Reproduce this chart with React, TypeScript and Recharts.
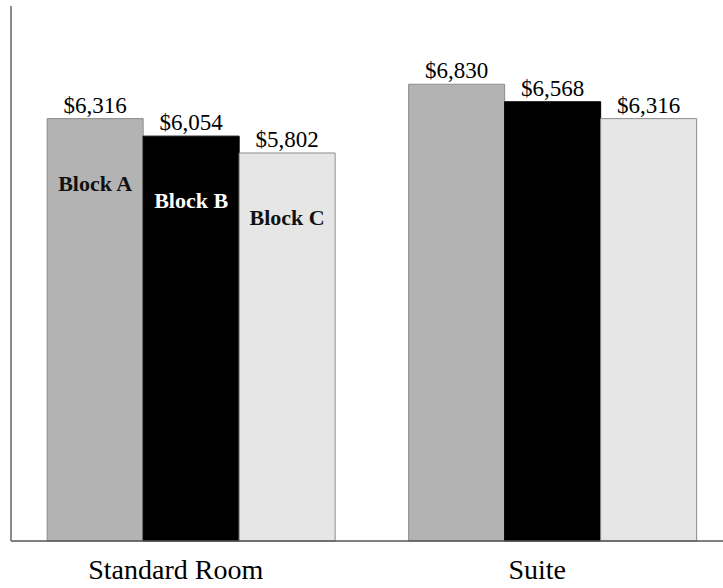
import { BarChart, Bar, XAxis, YAxis, LabelList } from 'recharts';

const categories = ['Standard Room', 'Suite'];
const blockA = [6316, 6830];
const blockB = [6054, 6568];
const blockC = [5802, 6316];
const seriesNames = ['Block A', 'Block B', 'Block C'];

const FONT = '"Liberation Serif", "Times New Roman", serif';

const data = categories.map((name, i) => ({
  name,
  blockA: blockA[i],
  blockB: blockB[i],
  blockC: blockC[i],
}));

const money = (v: any) => `$${Number(v).toLocaleString('en-US')}`;

// series name drawn inside the first group only
const nameLabel = (label: string, color: string) => (props: any) => {
  const { x, y, width, index } = props;
  if (index !== 0) return null;
  return (
    <text
      x={x + width / 2}
      y={y + 72}
      textAnchor="middle"
      fontFamily={FONT}
      fontWeight="bold"
      fontSize={22}
      fill={color}
    >
      {label}
    </text>
  );
};

const CategoryTick = (props: any) => {
  const { x, y, payload } = props;
  return (
    <text x={x - 16} y={y + 30} textAnchor="middle" fontFamily={FONT} fontSize={28} fill="#000">
      {payload.value}
    </text>
  );
};

const bars = [
  { key: 'blockA', fill: '#b3b3b3', stroke: '#8c8c8c', text: '#111' },
  { key: 'blockB', fill: '#000000', stroke: '#000000', text: '#fff' },
  { key: 'blockC', fill: '#e6e6e6', stroke: '#8c8c8c', text: '#111' },
];

export default function App() {
  return (
    <div style={{ position: 'absolute', left: 0, top: 0, width: 723, height: 588, overflow: 'hidden', background: '#fff' }}>
      <BarChart
        width={734}
        height={588}
        data={data}
        margin={{ top: 6, right: 0, bottom: 17, left: 10 }}
        barCategoryGap="10%"
        barGap={0}
      >
        <XAxis
          dataKey="name"
          height={30}
          axisLine={{ stroke: '#555', strokeWidth: 1.5 }}
          tickLine={false}
          tick={<CategoryTick />}
          interval={0}
        />
        <YAxis
          width={1}
          domain={[0, 8000]}
          tick={false}
          tickLine={false}
          axisLine={{ stroke: '#666', strokeWidth: 1.5 }}
        />
        {bars.map((b, i) => (
          <Bar key={b.key} dataKey={b.key} fill={b.fill} stroke={b.stroke} strokeWidth={1} isAnimationActive={false}>
            <LabelList
              dataKey={b.key}
              position="top"
              offset={6}
              formatter={money}
              style={{ fontFamily: FONT, fontSize: 23, fill: '#000' }}
            />
            <LabelList dataKey={b.key} content={nameLabel(seriesNames[i], b.text)} />
          </Bar>
        ))}
      </BarChart>
    </div>
  );
}
